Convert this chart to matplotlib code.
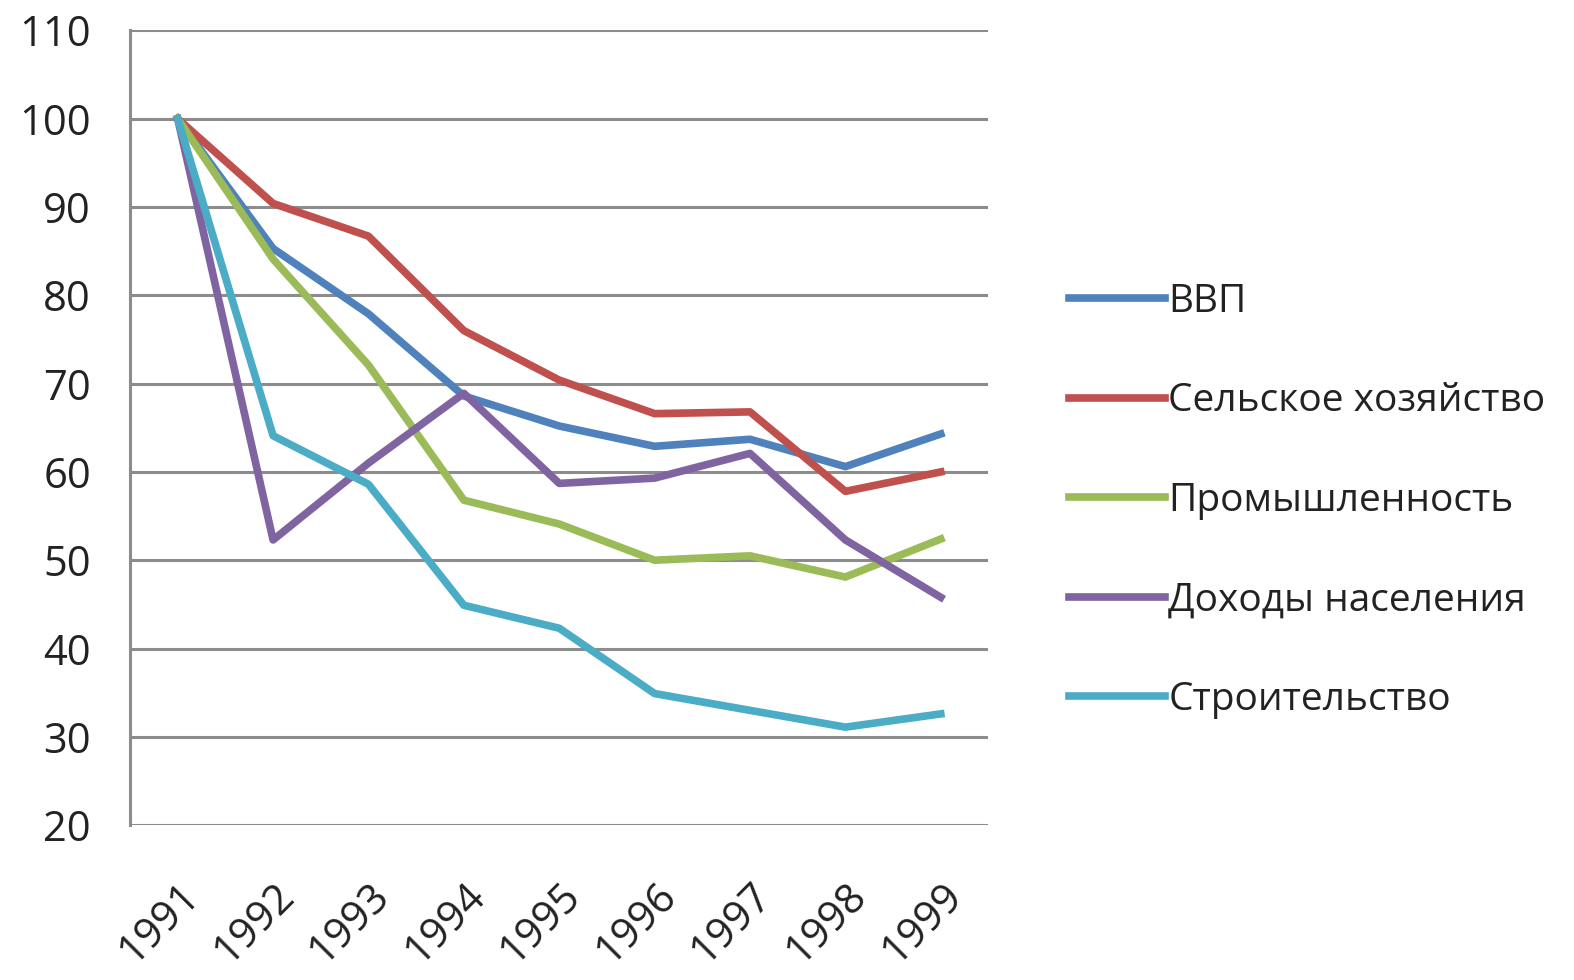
import numpy as np
import matplotlib.pyplot as plt

plt.rcParams['font.family'] = ['Open Sans', 'DejaVu Sans']

years = ['1991', '1992', '1993', '1994', '1995', '1996', '1997', '1998', '1999']

vvp = [100, 85.3, 77.9, 68.6, 65.2, 62.9, 63.7, 60.6, 64.3]
selhoz = [100, 90.4, 86.7, 76.0, 70.4, 66.6, 66.8, 57.8, 60.0]
prom = [100, 84.1, 72.1, 56.8, 54.1, 50.0, 50.5, 48.1, 52.4]
dohody = [100, 52.3, 61.0, 68.9, 58.7, 59.3, 62.1, 52.3, 45.8]
stroit = [100, 64.1, 58.6, 44.9, 42.3, 34.9, 33.0, 31.1, 32.6]

labels = ['ВВП', 'Сельское хозяйство', 'Промышленность', 'Доходы населения', 'Строительство']
colors = ['#4F81BD', '#C0504D', '#9BBB59', '#8064A2', '#4BACC6']
series = [vvp, selhoz, prom, dohody, stroit]

fig = plt.figure(figsize=(15.74, 9.8), dpi=100)
ax = fig.add_axes([0.0826, 0.158, 0.5454, 0.811])

x = np.arange(len(years))
lines = []
for s, lab, c in zip(series, labels, colors):
    ln, = ax.plot(x, s, color=c, linewidth=5.5, label=lab, zorder=3)
    lines.append(ln)

ax.set_xlim(-0.5, len(years) - 0.5)
ax.set_ylim(20, 110)
ax.set_yticks(np.arange(20, 111, 10))
ax.yaxis.grid(True, color='#8c8c8c', linewidth=2.2)
ax.set_axisbelow(True)
ax.set_xticks(x)
ax.set_xticklabels(years, rotation=45, ha='right', rotation_mode='anchor')

for side in ['top', 'right', 'bottom']:
    ax.spines[side].set_visible(False)
ax.spines['left'].set_color('#8c8c8c')
ax.spines['left'].set_linewidth(2.2)
ax.tick_params(axis='both', length=0, labelsize=30, colors='#222222')
ax.tick_params(axis='y', pad=28)
ax.tick_params(axis='x', pad=36)

fig.legend(handles=lines, loc='center left', bbox_to_anchor=(0.667, 0.489),
           frameon=False, fontsize=28, handlelength=2.45, handletextpad=0.1,
           labelspacing=1.58, borderpad=0, labelcolor='#222222')

fig.savefig('out.png', dpi=100)
